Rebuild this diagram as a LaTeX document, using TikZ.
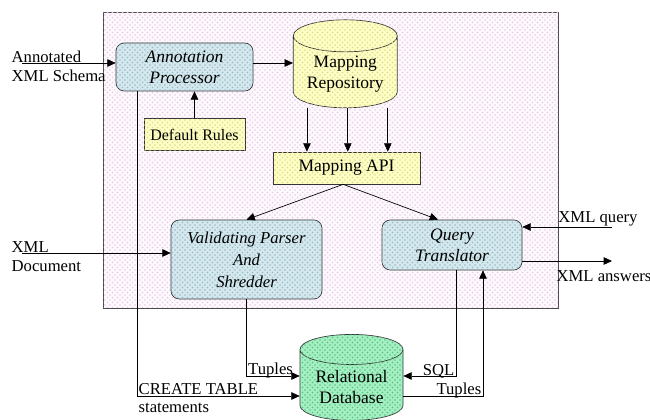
\documentclass[tikz,border=0pt]{standalone}
\usepackage{fontspec}
\setmainfont{Liberation Serif}
\usetikzlibrary{arrows.meta,patterns,shapes.geometric}
\definecolor{sysfill}{RGB}{253,249,253}
\definecolor{sysdot}{RGB}{230,200,230}
\definecolor{procfill}{RGB}{212,232,238}
\definecolor{procdot}{RGB}{150,185,195}
\definecolor{mapfill}{RGB}{255,255,195}
\definecolor{mapdot}{RGB}{215,215,150}
\definecolor{dbfill}{RGB}{165,240,195}
\definecolor{dbdot}{RGB}{90,190,130}
\tikzset{
	arr/.style={-{Triangle[length=5pt,width=4.5pt]}, color=black},
	procbox/.style={draw=black!80, rounded corners=5pt, fill=procfill, postaction={pattern=crosshatch dots, pattern color=procdot}, font=\itshape\fontsize{10.5}{12.5}\selectfont, align=center, inner sep=1pt},
	mapbox/.style={draw=black!80, fill=mapfill, postaction={pattern=crosshatch dots, pattern color=mapdot}, font=\fontsize{10.5}{12.5}\selectfont, align=center, inner sep=1pt},
	store/.style={draw=black!80, cylinder, shape border rotate=90, aspect=0.4, align=center, font=\fontsize{10.5}{12.5}\selectfont, inner sep=1pt},
	lbl/.style={font=\fontsize{10}{11.5}\selectfont, inner sep=0.8pt, align=left}
}
\begin{document}
\begin{tikzpicture}[x=0.6pt, y=-0.6pt]
			%%%%% FRAME %%%%%
			\useasboundingbox (0, 0) rectangle (650, 420);
			\draw[color=black!70, fill=sysfill, postaction={pattern=crosshatch dots, pattern color=sysdot}] (103, 12) rectangle (558, 308);
			
			%%%%% COMPONENTS %%%%%
			\node[procbox, minimum width=82.2pt, minimum height=28.8pt] (ap) at (184.5, 67) {Annotation\\Processor};
			\node[store, fill=mapfill, postaction={pattern=crosshatch dots, pattern color=mapdot}, minimum width=62.4pt, minimum height=52.8pt] (mr) at (345.3, 74) {Mapping\\Repository};
			\node[mapbox, font=\fontsize{9.6}{11.5}\selectfont, minimum width=60.6pt, minimum height=19.2pt] (dr) at (194.5, 134.5) {Default Rules};
			\node[mapbox, minimum width=88.2pt, minimum height=19.2pt] (api) at (346.5, 168) {Mapping API};
			\node[procbox, font=\itshape\fontsize{10}{13.2}\selectfont, minimum width=90.6pt, minimum height=47.4pt] (vp) at (246.5, 259.5) {Validating Parser\\And\\Shredder};
			\node[procbox, minimum width=84pt, minimum height=30pt] (qt) at (452, 245) {Query\\Translator};
			\node[store, fill=dbfill, postaction={pattern=crosshatch dots, pattern color=dbdot}, minimum width=61.8pt, minimum height=51.6pt] (db) at (351.5, 387) {Relational\\Database};
			
			%%%%% INPUTS AND OUTPUTS %%%%%
			\node[lbl, anchor=west] (schema) at (10, 66) {Annotated\\XML Schema};
			\coordinate (schema-in) at (22, 63);
			\node[lbl, anchor=west] (doc) at (10, 256.5) {XML\\Document};
			\coordinate (doc-in) at (22, 253);
			\node[lbl] (query) at (598, 219) {XML query};
			\coordinate (query-in) at (612, 227);
			\node[lbl] (answers) at (604, 276) {XML answers};
			\coordinate (answers-out) at (612, 261);
			
			%%%%% CONNECTORS %%%%%
			\draw[arr] (schema-in) -- (schema-in -| ap.west);
			\draw[arr] (ap.east |- schema-in) -- (mr.west |- schema-in);
			\draw[arr] (dr.north) -- (dr.north |- ap.south);
			\foreach \dx in {-23, 1.5, 25.5}
				\draw[arr] ([xshift=\dx pt]mr.south) -- ([xshift=\dx pt]mr.south |- api.north);
			\draw[arr] ([xshift=-2pt]api.south) -- (vp.north);
			\draw[arr] ([xshift=-2pt]api.south) -- ([xshift=-8.4pt]qt.north);
			\draw[arr] (doc-in) -- (doc-in -| vp.west);
			\draw[arr] (query-in) -- (query-in -| qt.east);
			\draw[arr] (qt.east |- answers-out) -- (answers-out);
			
			\draw[arr] (vp.south) |- node[lbl, pos=0.5, anchor=south west, yshift=-2.4pt] {Tuples} ([yshift=6.6pt]db.west);
			\draw[arr] ([xshift=-28.5pt]ap.south) |- node[lbl, pos=0.5, anchor=south west] {CREATE TABLE} node[lbl, pos=0.5, anchor=north west, yshift=-3pt] {statements} ([yshift=-5.4pt]db.west);
			\draw[arr] ([xshift=2.4pt]qt.south) |- node[lbl, pos=0.5, anchor=south east, yshift=-2.4pt] {SQL} ([yshift=6.6pt]db.east);
			\draw[arr] ([yshift=-5.4pt]db.east) -| node[lbl, pos=0.5, anchor=south east, yshift=-2.4pt] {Tuples} ([xshift=18.6pt]qt.south);
			
			%%%%% END %%%%%
\end{tikzpicture}
\end{document}
